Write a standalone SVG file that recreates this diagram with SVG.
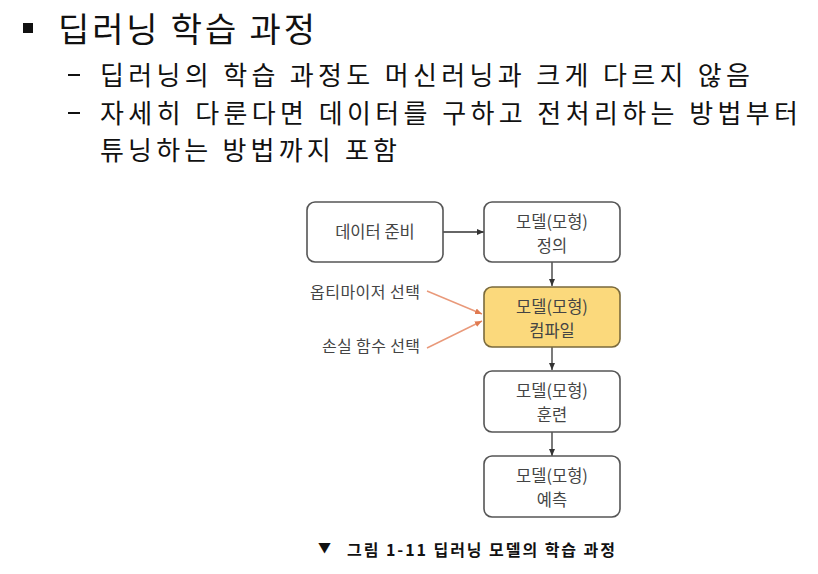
<svg xmlns="http://www.w3.org/2000/svg" width="818" height="574" viewBox="0 0 818 574">
<defs>
<style>
.t{font-family:"Noto Sans CJK KR","Noto Sans",sans-serif;fill:#111}
.b{fill:#fff;stroke:#555;stroke-width:1.6}
.y{fill:#fbd97c;stroke:#7a6a3c;stroke-width:1.6}
.n{font-family:"Noto Sans CJK KR","Noto Sans",sans-serif;font-size:16.5px;fill:#444;text-anchor:middle}
.l{font-family:"Noto Sans CJK KR","Noto Sans",sans-serif;font-size:16px;fill:#444}
.c{stroke:#333;stroke-width:1.3;fill:none}
.o{stroke:#e9997a;stroke-width:1.4;fill:none}
</style>
<marker id="ah" markerWidth="8" markerHeight="8" refX="7" refY="4" orient="auto" markerUnits="userSpaceOnUse"><path d="M0,1 L7,4 L0,7 Z" fill="#333"/></marker>
<marker id="ao" markerWidth="8" markerHeight="8" refX="7" refY="4" orient="auto" markerUnits="userSpaceOnUse"><path d="M0,1 L7,4 L0,7 Z" fill="#e07a50"/></marker>
</defs>
<g id="text">
<rect x="23" y="23" width="10" height="10" fill="#111"/>
<text class="t" x="58" y="42" font-size="34" textLength="257" lengthAdjust="spacing">딥러닝 학습 과정</text>
<rect x="68" y="74" width="12" height="2" fill="#111"/>
<text class="t" x="100" y="85" font-size="26" textLength="650" lengthAdjust="spacing">딥러닝의 학습 과정도 머신러닝과 크게 다르지 않음</text>
<rect x="68" y="112" width="12" height="2" fill="#111"/>
<text class="t" x="100" y="123" font-size="26" textLength="698" lengthAdjust="spacing">자세히 다룬다면 데이터를 구하고 전처리하는 방법부터</text>
<text class="t" x="100" y="160" font-size="26" textLength="297" lengthAdjust="spacing">튜닝하는 방법까지 포함</text>
</g>
<g id="connectors">
<line class="c" x1="443" y1="232" x2="484" y2="232" marker-end="url(#ah)"/>
<line class="c" x1="552" y1="262" x2="552" y2="286" marker-end="url(#ah)"/>
<line class="c" x1="552" y1="347" x2="552" y2="370" marker-end="url(#ah)"/>
<line class="c" x1="552" y1="432" x2="552" y2="456" marker-end="url(#ah)"/>
<line class="o" x1="427" y1="291" x2="482" y2="314" marker-end="url(#ao)"/>
<line class="o" x1="427" y1="348" x2="482" y2="321" marker-end="url(#ao)"/>
</g>
<g id="n1"><rect class="b" x="307" y="202" width="136" height="60" rx="8"/><text class="n" x="375" y="238">데이터 준비</text></g>
<g id="n2"><rect class="b" x="484" y="202" width="136" height="60" rx="8"/><text class="n" x="552" y="228">모델(모형)</text><text class="n" x="552" y="252">정의</text></g>
<g id="n3"><rect class="y" x="484" y="287" width="136" height="60" rx="8"/><text class="n" x="552" y="313">모델(모형)</text><text class="n" x="552" y="337">컴파일</text></g>
<g id="n4"><rect class="b" x="484" y="371" width="136" height="61" rx="8"/><text class="n" x="552" y="397">모델(모형)</text><text class="n" x="552" y="421">훈련</text></g>
<g id="n5"><rect class="b" x="484" y="456" width="136" height="61" rx="8"/><text class="n" x="552" y="482">모델(모형)</text><text class="n" x="552" y="506">예측</text></g>
<g id="l1"><text class="l" x="310" y="298" textLength="110" lengthAdjust="spacing">옵티마이저 선택</text></g>
<g id="l2"><text class="l" x="322" y="352" textLength="98" lengthAdjust="spacing">손실 함수 선택</text></g>
<g id="caption"><text class="t" x="318" y="552" font-size="13">▼</text><text class="t" x="347" y="556" font-size="16" font-weight="bold" textLength="268" lengthAdjust="spacing">그림 1-11 딥러닝 모델의 학습 과정</text></g>
</svg>
